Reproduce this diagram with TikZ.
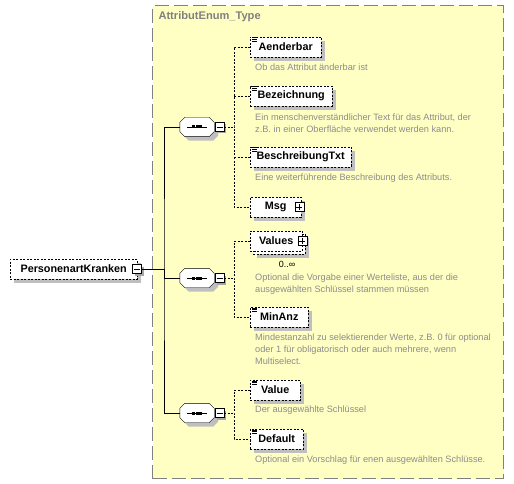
\documentclass[tikz,border=0pt]{standalone}
\usepackage{fontspec}
\setmainfont{Liberation Sans}
\usetikzlibrary{shadows}

\definecolor{schemabg}{HTML}{FFFFC4}
\definecolor{frameline}{HTML}{808080}
\definecolor{doctext}{HTML}{8C8C8C}

% little documentation mark in the upper left corner of an element
\newcommand\docmark[1]{\foreach \k in {0,1.7,3.4} \draw[line width=0.6pt] ([xshift=2pt,yshift=-1pt-\k pt]#1.north west) -- ++(5pt,0);}
% octagon of a sequence compositor, drawn round its node
\newcommand\octopath[1]{([xshift=5pt]#1.north west) -- ([xshift=-5pt]#1.north east) -- ([yshift=-5pt]#1.north east) -- ([yshift=5pt]#1.south east) -- ([xshift=-5pt]#1.south east) -- ([xshift=5pt]#1.south west) -- ([yshift=5pt]#1.south west) -- ([yshift=-5pt]#1.north west) -- cycle}
\newcommand\octo[1]{%
  \fill[black!25, transform canvas={shift={(4pt,-4pt)}}] \octopath{#1};
  \filldraw[fill=white] \octopath{#1};
  \draw[line width=0.9pt] ([xshift=-10pt]#1.center) -- ([xshift=10pt]#1.center);
  \foreach \d in {-3.6,0,3.6} \fill ([xshift=\d pt-1.5pt, yshift=-1.5pt]#1.center) rectangle ++(3pt,3pt);}

\begin{document}
\begin{tikzpicture}[x=1pt, y=-1pt,
  frame/.style={draw=frameline, line width=1.2pt, dash pattern=on 14pt off 5pt, fill=schemabg, anchor=north west, inner sep=0},
  flat/.style={draw, dash pattern=on 2pt off 1.5pt, fill=white, anchor=west, minimum height=20pt, minimum width=#1, inner xsep=6pt, inner ysep=0pt,
    font=\bfseries\fontsize{10.8}{12}\selectfont},
  elem/.style={flat=#1, general shadow={fill=black!25, draw=none, shadow xshift=4pt, shadow yshift=-4pt}},
  desc/.style={anchor=north west, text=doctext, font=\fontsize{9.2}{11.8}\selectfont, align=left, inner sep=0pt},
  seq/.style={minimum width=34pt, minimum height=19pt, inner sep=0pt},
  tog/.style={draw, fill=white, minimum size=9pt, inner sep=0pt,
    general shadow={fill=black!35, draw=none, shadow xshift=2pt, shadow yshift=-2pt},
    path picture={\draw[black] ([xshift=-3pt]path picture bounding box.center) -- ([xshift=3pt]path picture bounding box.center);}},
  plus/.style={draw, fill=white, minimum size=9pt, inner sep=0pt,
    path picture={\draw[black] ([xshift=-3pt]path picture bounding box.center) -- ([xshift=3pt]path picture bounding box.center);
      \draw[black] ([yshift=-3pt]path picture bounding box.center) -- ([yshift=3pt]path picture bounding box.center);}},
  link/.style={dash pattern=on 2pt off 1.5pt}]

\useasboundingbox (0,0) rectangle (514,484);

% complex type frame
\node[frame, minimum width=351pt, minimum height=473pt] (typebox) at (152,5) {};
\node[anchor=west, text=frameline, font=\bfseries\fontsize{11.1}{12}\selectfont] (typename) at (155,17) {AttributEnum\_Type};

% root element
\node[elem=127pt] (root) at (10,269) {PersonenartKranken\hspace{6pt}};
\node[tog] (roottog) at (137,269) {};
\coordinate (trunk) at (164,269);

% sequences
\node[seq] (seqA) at (197,127) {};
\octo{seqA}
\node[tog] (togA) at (219.5,127) {};
\node[seq] (seqB) at (197,278) {};
\octo{seqB}
\node[tog] (togB) at (219.5,278) {};
\node[seq] (seqC) at (197,413) {};
\octo{seqC}
\node[tog] (togC) at (219.5,413) {};

\coordinate (brA) at (234,127);
\coordinate (brB) at (234,278);
\coordinate (brC) at (234,413);

% first sequence
\node[elem=71pt] (aenderbar) at (250,47) {Aenderbar};
\docmark{aenderbar}
\node[desc] (aenderbardoc) at (255,64) {Ob das Attribut änderbar ist};
\node[elem=82pt] (bezeichnung) at (250,96) {Bezeichnung};
\docmark{bezeichnung}
\node[desc] (bezeichnungdoc) at (255,114) {Ein menschenverständlicher Text für das Attribut, der\\z.B. in einer Oberfläche verwendet werden kann.};
\node[elem=101pt] (beschreibung) at (250,157) {BeschreibungTxt};
\docmark{beschreibung}
\node[desc] (beschreibungdoc) at (255,174) {Eine weiterführende Beschreibung des Attributs.};
\node[elem=51pt] (msg) at (250,207) {Msg\hspace{14pt}};
\node[plus] (msgtog) at ([xshift=-2pt]msg.east) {};

% second sequence
\node[elem=52pt] (valuesback) at (253,244) {};
\node[flat=52pt] (values) at (250,241) {Values\hspace{10pt}};
\node[plus] (valuestog) at (values.east) {};
\node[font=\fontsize{9}{10}\selectfont, inner sep=0pt] (valuesocc) at (287,264) {0..∞};
\node[desc] (valuesdoc) at (255,274) {Optional die Vorgabe einer Werteliste, aus der die\\ausgewählten Schlüssel stammen müssen};
\node[elem=58pt] (minanz) at (250,317) {MinAnz};
\docmark{minanz}
\node[desc] (minanzdoc) at (255,334) {Mindestanzahl zu selektierender Werte, z.B. 0 für optional\\oder 1 für obligatorisch oder auch mehrere, wenn\\Multiselect.};

% third sequence
\node[elem=50pt] (value) at (250,390) {Value};
\docmark{value}
\node[desc] (valuedoc) at (255,406) {Der ausgewählte Schlüssel};
\node[elem=53pt] (default) at (250,439) {Default};
\docmark{default}
\node[desc] (defaultdoc) at (255,456) {Optional ein Vorschlag für enen ausgewählten Schlüsse.};

% connectors
\draw (roottog.east) -- (trunk);
\draw (seqA.west) -| (trunk) |- (seqC.west);
\draw (trunk) |- (seqB.west);

\draw[link] (togA.east) -- (brA);
\draw[link] (aenderbar.west) -| (brA) |- (msg.west);
\draw[link] (bezeichnung.west) -- (bezeichnung.west -| brA);
\draw[link] (beschreibung.west) -- (beschreibung.west -| brA);

\draw[link] (togB.east) -- (brB);
\draw[link] (values.west) -| (brB) |- (minanz.west);

\draw[link] (togC.east) -- (brC);
\draw[link] (value.west) -| (brC) |- (default.west);
\end{tikzpicture}
\end{document}
